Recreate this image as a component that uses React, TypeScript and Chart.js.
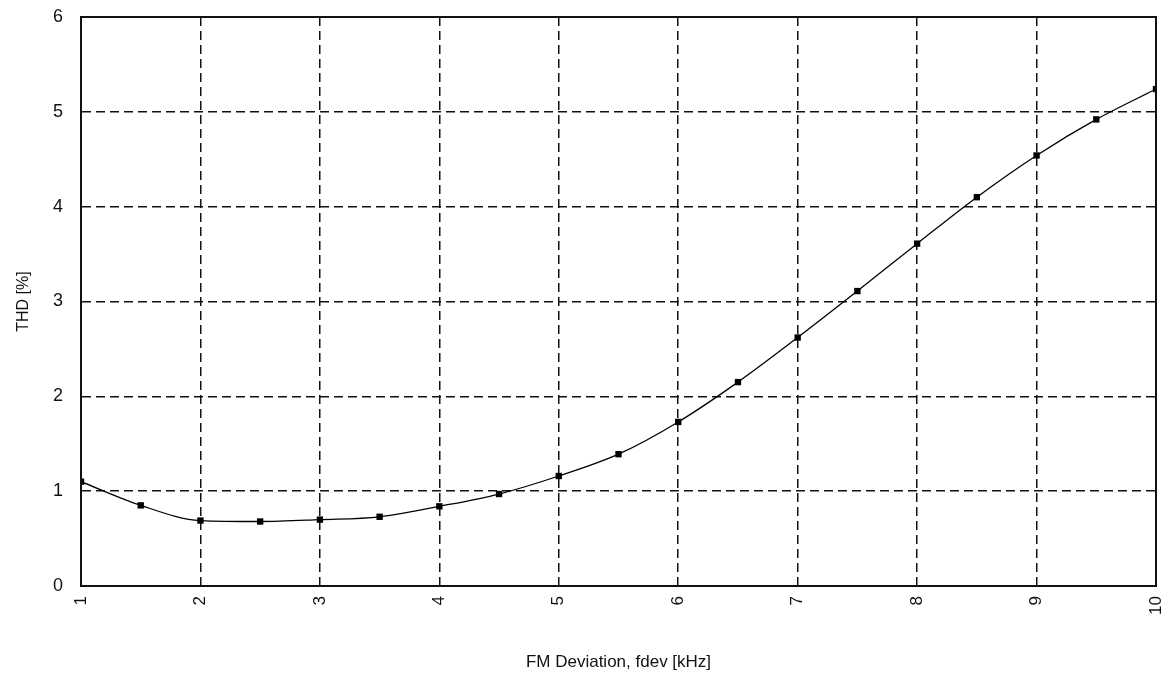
import React, { useEffect, useRef } from "react";
import { Chart, registerables } from "chart.js";

Chart.register(...registerables);

const xValues = [1, 1.5, 2, 2.5, 3, 3.5, 4, 4.5, 5, 5.5, 6, 6.5, 7, 7.5, 8, 8.5, 9, 9.5, 10];
const thdValues = [1.1, 0.85, 0.69, 0.68, 0.7, 0.73, 0.84, 0.97, 1.16, 1.39, 1.73, 2.15, 2.62, 3.11, 3.61, 4.1, 4.54, 4.92, 5.24];
const xTicks = [1, 2, 3, 4, 5, 6, 7, 8, 9, 10];
const yTicks = [0, 1, 2, 3, 4, 5, 6];
const xTitle = "FM Deviation, fdev [kHz]";
const yTitle = "THD [%]";

const FONT = "'Liberation Sans', Arial, sans-serif";

export default function App() {
  const ref = useRef<HTMLCanvasElement | null>(null);

  useEffect(() => {
    if (!ref.current) return;
    const frame = {
      id: "frame",
      afterDraw(chart: any) {
        const { ctx, chartArea } = chart;
        ctx.save();
        ctx.strokeStyle = "#111";
        ctx.lineWidth = 2;
        ctx.setLineDash([]);
        ctx.strokeRect(chartArea.left, chartArea.top, chartArea.right - chartArea.left, chartArea.bottom - chartArea.top);
        ctx.restore();
      },
    };
    const chart = new Chart(ref.current, {
      type: "line",
      data: {
        datasets: [
          {
            data: xValues.map((x, i) => ({ x, y: thdValues[i] })),
            borderColor: "#000",
            borderWidth: 1.3,
            backgroundColor: "#000",
            pointStyle: "rect",
            pointRadius: 4.5,
            pointBorderWidth: 0,
            cubicInterpolationMode: "monotone",
            fill: false,
          },
        ],
      },
      options: {
        animation: false,
        responsive: false,
        maintainAspectRatio: false,
        devicePixelRatio: 1,
        layout: { padding: { top: 17, right: 12, left: 0, bottom: 0 } },
        plugins: { legend: { display: false }, tooltip: { enabled: false } },
        scales: {
          x: {
            type: "linear",
            min: 1,
            max: 10,
            afterBuildTicks: (s: any) => {
              s.ticks = xTicks.map((v) => ({ value: v }));
            },
            afterFit: (s: any) => {
              s.height = 89;
              s.paddingLeft = 0;
              s.paddingRight = 0;
            },
            ticks: {
              color: "#111",
              font: { family: FONT, size: 17 },
              minRotation: 90,
              maxRotation: 90,
              padding: 10,
              autoSkip: false,
            },
            grid: { color: "#111", lineWidth: 1.5, drawTicks: false },
            border: { display: true, color: "#111", width: 2, dash: [9, 5] },
            title: {
              display: true,
              text: xTitle,
              color: "#111",
              font: { family: FONT, size: 17 },
              padding: { top: 4, bottom: 2 },
            },
          },
          y: {
            type: "linear",
            min: 0,
            max: 6,
            afterBuildTicks: (s: any) => {
              s.ticks = yTicks.map((v) => ({ value: v }));
            },
            afterFit: (s: any) => {
              s.width = 81;
              s.paddingTop = 0;
              s.paddingBottom = 0;
            },
            ticks: {
              color: "#111",
              font: { family: FONT, size: 18 },
              padding: 18,
            },
            grid: { color: "#111", lineWidth: 1.5, drawTicks: false },
            border: { display: true, color: "#111", width: 2, dash: [9, 5] },
            title: {
              display: true,
              text: yTitle,
              color: "#111",
              font: { family: FONT, size: 16 },
              padding: { top: 14, bottom: 0 },
            },
          },
        },
      },
      plugins: [frame],
    } as any);
    return () => chart.destroy();
  }, []);

  return (
    <div style={{ position: "absolute", left: 0, top: 0, width: 1168, height: 675, background: "#fff" }}>
      <canvas ref={ref} width={1168} height={675} style={{ width: 1168, height: 675, display: "block" }} />
    </div>
  );
}
